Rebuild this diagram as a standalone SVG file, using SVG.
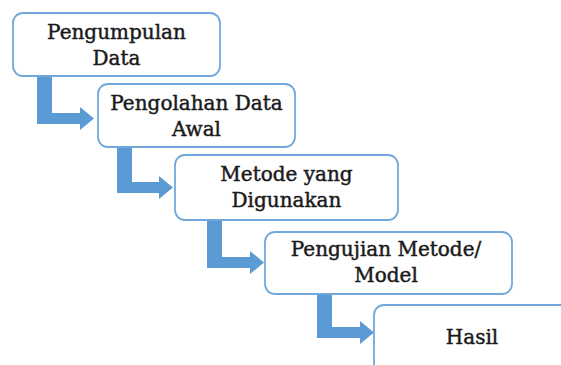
<svg xmlns="http://www.w3.org/2000/svg" width="561" height="365" viewBox="0 0 561 365">
  <style>
    .box { fill: #ffffff; stroke: #72a8dc; stroke-width: 1.8; }
    .lbl { font-family: "DejaVu Serif", "Liberation Serif", serif; font-size: 20px; fill: #1a1a1a; stroke: #1a1a1a; stroke-width: 0.45; text-anchor: middle; }
    .arrow { fill: #5b9bd5; }
  </style>
  <rect width="561" height="365" fill="#ffffff"/>

  <!-- bent arrows leading from each step to the next -->
  <g id="connectors">
    <path class="arrow" d="M37,76 H52 V113 H80 V107 L94,118.5 L80,130 V124 H37 Z"/>
    <path class="arrow" d="M117,148 H132 V182 H159 V176 L173,187.5 L159,199 V193 H117 Z"/>
    <path class="arrow" d="M207,220 H222 V257 H250 V251 L264,262.5 L250,274 V268 H207 Z"/>
    <path class="arrow" d="M317,294 H332 V327 H360 V321 L374,332.5 L360,344 V338 H317 Z"/>
  </g>

  <g id="step1">
    <rect class="box" x="13" y="13" width="207" height="63" rx="10"/>
    <text class="lbl" x="116.5" y="38.5">Pengumpulan</text>
    <text class="lbl" x="116.5" y="64.5">Data</text>
  </g>
  <g id="step2">
    <rect class="box" x="98" y="84" width="197" height="63" rx="10"/>
    <text class="lbl" x="196.5" y="110">Pengolahan Data</text>
    <text class="lbl" x="196.5" y="135.5">Awal</text>
  </g>
  <g id="step3">
    <rect class="box" x="175" y="155" width="223" height="65" rx="10"/>
    <text class="lbl" x="286.5" y="181">Metode yang</text>
    <text class="lbl" x="286.5" y="206.5">Digunakan</text>
  </g>
  <g id="step4">
    <rect class="box" x="265" y="232" width="247" height="62" rx="10"/>
    <text class="lbl" x="386" y="256">Pengujian Metode/</text>
    <text class="lbl" x="386" y="281.5">Model</text>
  </g>
  <g id="step5">
    <rect class="box" x="374" y="305" width="220" height="80" rx="10"/>
    <text class="lbl" x="472" y="344">Hasil</text>
  </g>
</svg>
